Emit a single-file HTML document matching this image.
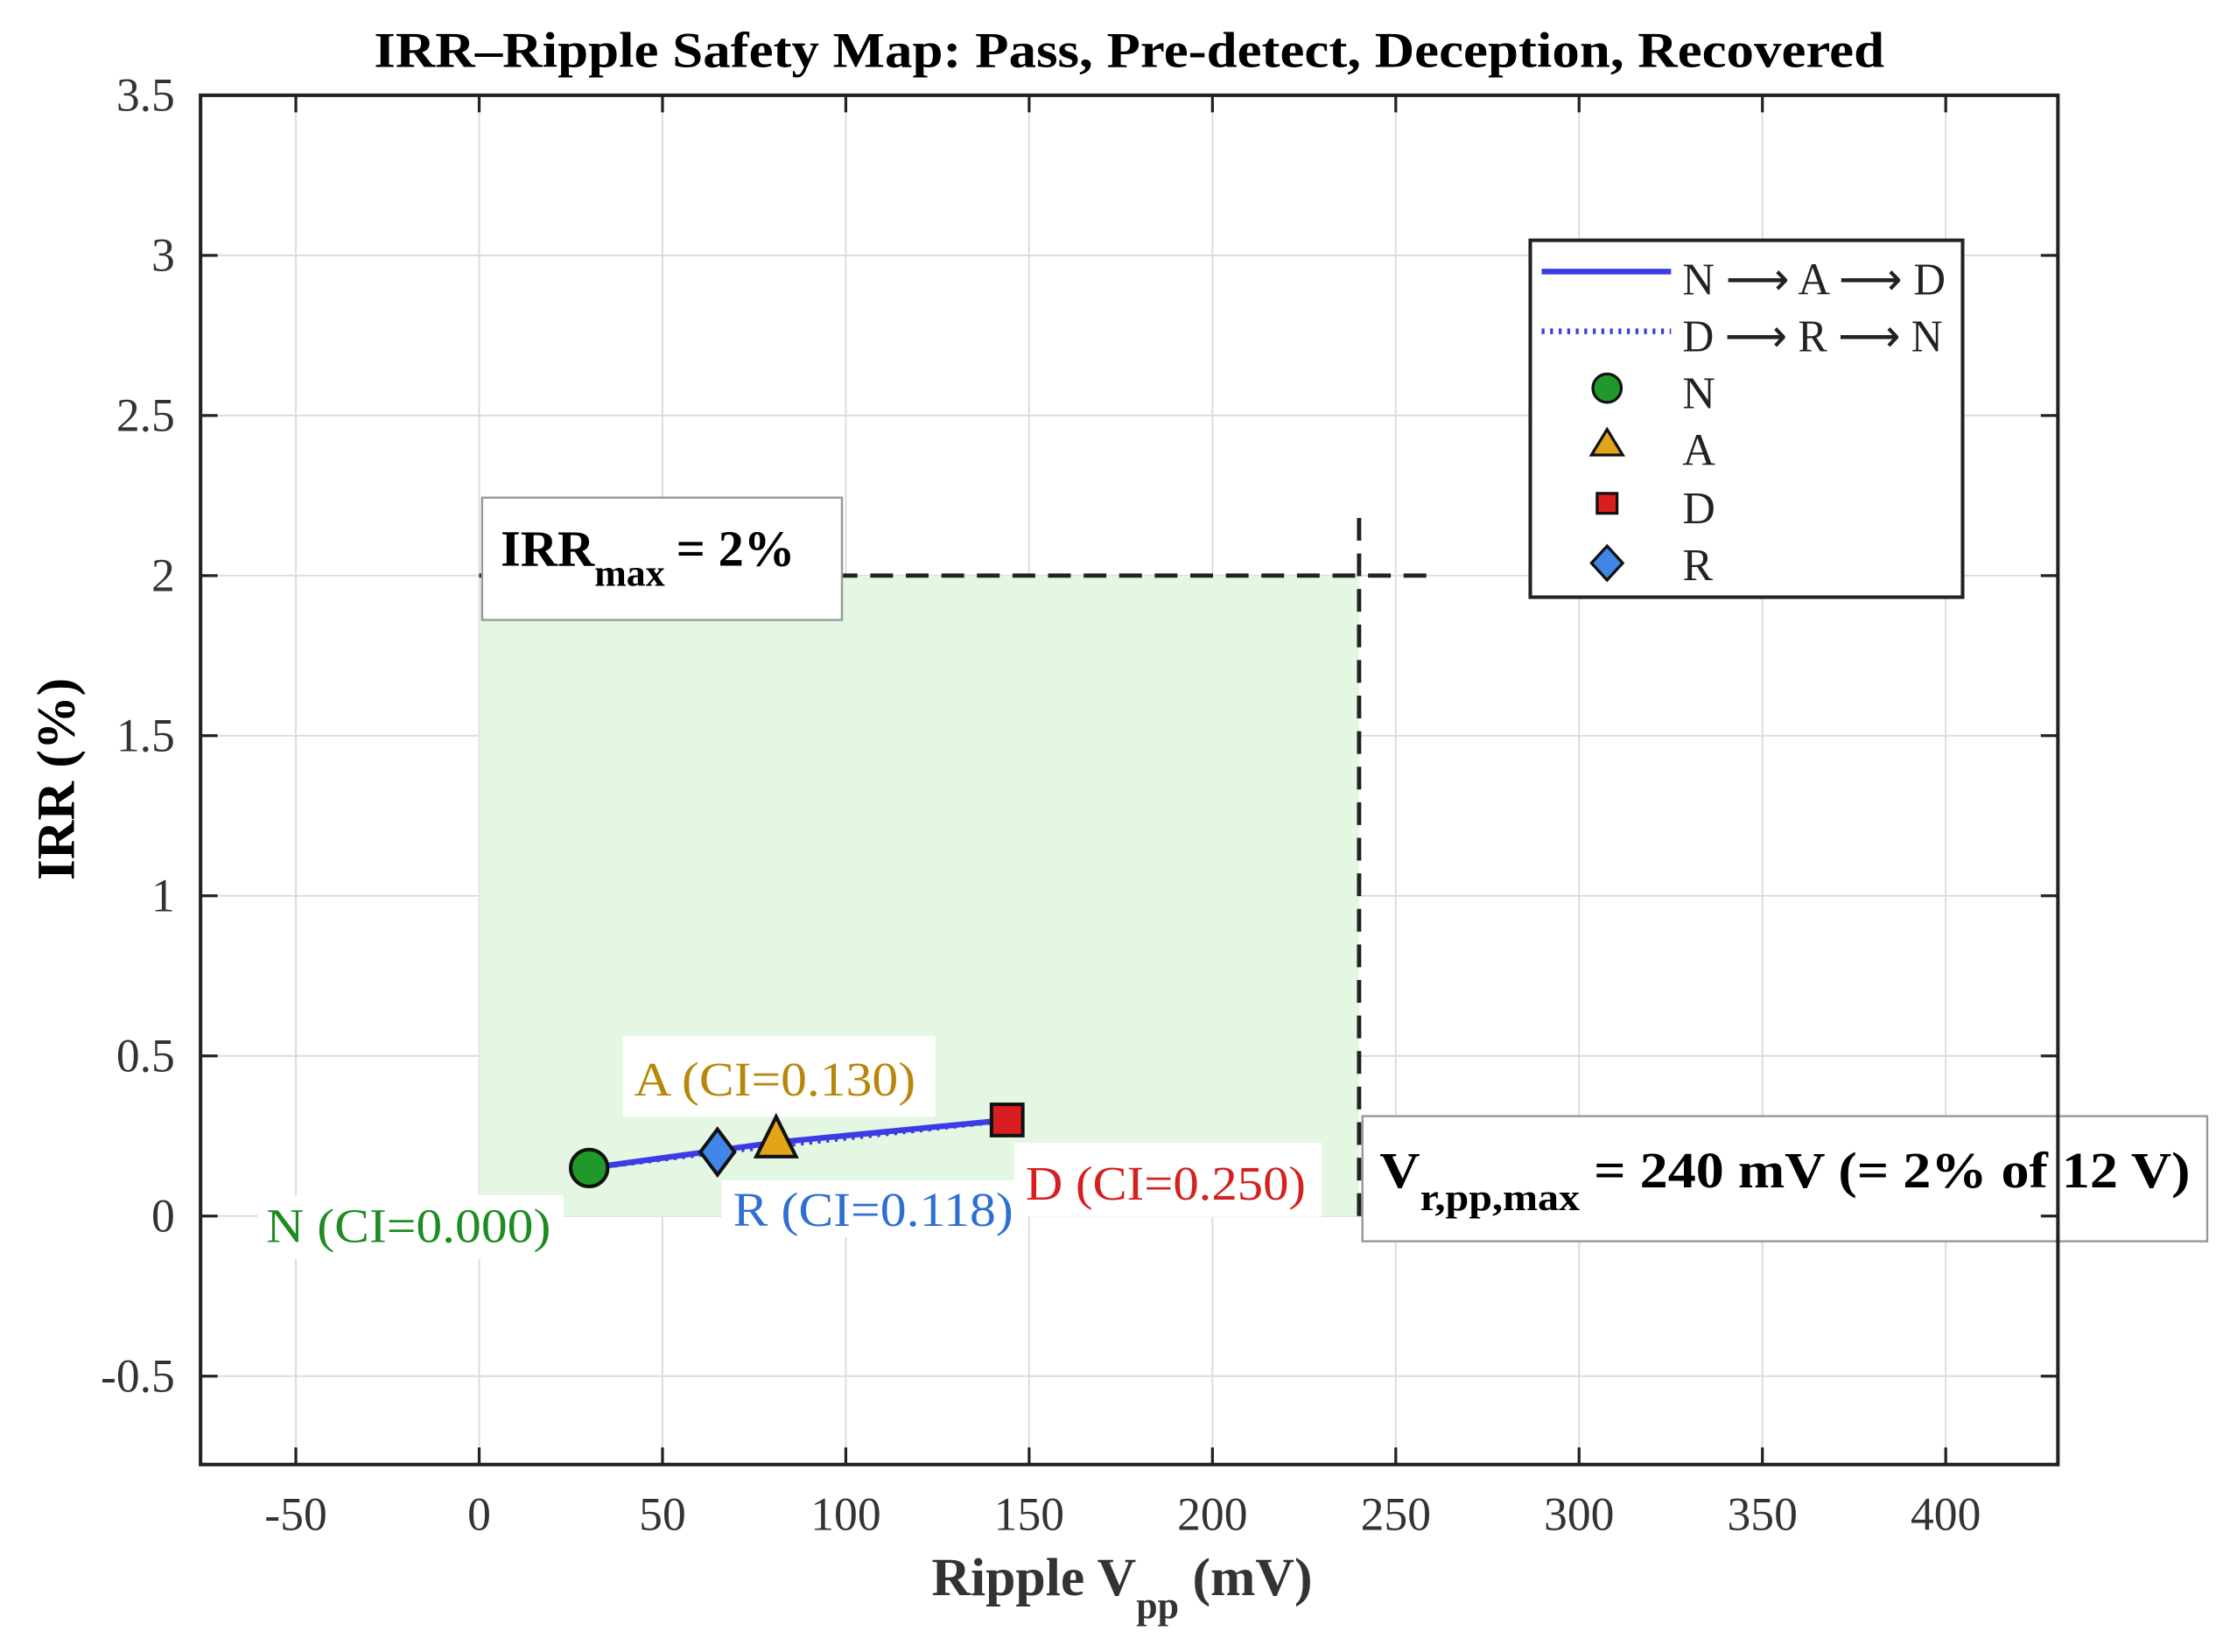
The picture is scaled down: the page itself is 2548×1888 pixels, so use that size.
<!DOCTYPE html>
<html><head><meta charset="utf-8"><style>
html,body{margin:0;padding:0;background:#fff;}
svg{display:block;font-family:"Liberation Serif",serif;}
</style></head><body>
<svg id="chart" width="2548" height="1888" viewBox="0 0 1568 1161.85" xmlns="http://www.w3.org/2000/svg">
<rect width="1568" height="1162" fill="#fff"/>
<g id="grid"></g>
<g id="region"></g>
<g id="marks"></g>
<g id="axes"></g>
<text x="263" y="47" font-size="35" font-weight="bold" textLength="1062" lengthAdjust="spacingAndGlyphs">IRR–Ripple Safety Map: Pass, Pre-detect, Deception, Recovered</text>
<text x="655" y="1122" font-size="38" font-weight="bold" fill="#333">Ripple V<tspan font-size="27" dy="16">pp</tspan><tspan dy="-16"> (mV)</tspan></text>
<text transform="translate(52,548) rotate(-90)" text-anchor="middle" font-size="38" font-weight="bold">IRR (%)</text>
<g>
<rect x="1076" y="169" width="304" height="251" fill="#fff" stroke="#222" stroke-width="2.5"/>
<line x1="1084" y1="191" x2="1175" y2="191" stroke="#3c3ce6" stroke-width="4"/>
<line x1="1084" y1="233" x2="1175" y2="233" stroke="#3c3ce6" stroke-width="4" stroke-dasharray="2,4"/>
<circle cx="1130" cy="273" r="10" fill="#1f9a2a" stroke="#111" stroke-width="2"/>
<polygon points="1130,302 1141,320 1119,320" fill="#e2a418" stroke="#111" stroke-width="2"/>
<rect x="1123" y="347" width="14" height="14" fill="#d81e1e" stroke="#111" stroke-width="2"/>
<polygon points="1130,384 1141,396 1130,408 1119,396" fill="#3f86e6" stroke="#111" stroke-width="2"/>
<g font-size="32" fill="#222">
<text x="1183" y="207" textLength="185" lengthAdjust="spacingAndGlyphs">N ⟶ A ⟶ D</text>
<text x="1183" y="247" textLength="183" lengthAdjust="spacingAndGlyphs">D ⟶ R ⟶ N</text>
<text x="1183" y="287">N</text>
<text x="1183" y="327">A</text>
<text x="1183" y="368">D</text>
<text x="1183" y="408">R</text>
</g></g>
</svg>
<script>
const xTicks=[-50,0,50,100,150,200,250,300,350,400];
const yTicks=[-0.5,0,0.5,1,1.5,2,2.5,3,3.5];
const yTickLabels=["-0.5","0","0.5","1","1.5","2","2.5","3","3.5"];
const pointNames=["N","R","A","D"];
const rippleVals=[30,65,81,144];
const irrVals=[0.15,0.2,0.23,0.3];
const ciVals=["0.000","0.118","0.130","0.250"];
const pathForward=["N","A","D"];
const pathBack=["D","R","N"];
const vLimit=240, irrLimit=2;
const L=141,R=1447,T=67,B=1030,XMIN=-76,XMAX=430.6,YMIN=-0.776,YMAX=3.5;
const sx=v=>L+(v-XMIN)/(XMAX-XMIN)*(R-L);
const sy=v=>B-(v-YMIN)/(YMAX-YMIN)*(B-T);
const NS="http://www.w3.org/2000/svg";
function mk(tag,attrs,parent,txt){const e=document.createElementNS(NS,tag);for(const k in attrs)e.setAttribute(k,attrs[k]);if(txt!==undefined)e.textContent=txt;parent.appendChild(e);return e;}
const grid=document.getElementById('grid'),axes=document.getElementById('axes'),region=document.getElementById('region'),marks=document.getElementById('marks');
xTicks.forEach(t=>{const l=mk('line',{x1:sx(t),x2:sx(t),y1:T,y2:B,stroke:'#dcdcdc','stroke-width':1.2},grid);

mk('line',{x1:sx(t),x2:sx(t),y1:B,y2:B-12,stroke:'#222','stroke-width':2},axes);
mk('line',{x1:sx(t),x2:sx(t),y1:T,y2:T+12,stroke:'#222','stroke-width':2},axes);
const tx=mk('text',{x:sx(t),y:B+46,'text-anchor':'middle','font-size':33,fill:'#333'},axes,String(t));
});
yTicks.forEach((t,i)=>{const l=mk('line',{x1:L,x2:R,y1:sy(t),y2:sy(t),stroke:'#dcdcdc','stroke-width':1.2},grid);

mk('line',{x1:L,x2:L+12,y1:sy(t),y2:sy(t),stroke:'#222','stroke-width':2},axes);
mk('line',{x1:R,x2:R-12,y1:sy(t),y2:sy(t),stroke:'#222','stroke-width':2},axes);
const tx=mk('text',{x:L-18,y:sy(t)+11,'text-anchor':'end','font-size':33,fill:'#333'},axes,yTickLabels[i]);
});
mk('rect',{x:L,y:T,width:R-L,height:B-T,fill:'none',stroke:'#222','stroke-width':2.5},axes);
const rg=mk('rect',{x:sx(0),y:sy(irrLimit),width:sx(vLimit)-sx(0),height:sy(0)-sy(irrLimit),fill:'#e3f7e3'},region);

const hl=mk('line',{x1:sx(0),x2:sx(260),y1:sy(irrLimit),y2:sy(irrLimit),stroke:'#222','stroke-width':3,'stroke-dasharray':'16,9'},region);

const vl=mk('line',{x1:sx(vLimit),x2:sx(vLimit),y1:sy(0),y2:sy(2.2),stroke:'#222','stroke-width':3,'stroke-dasharray':'16,9'},region);

const b1=mk('g',{},region);

mk('rect',{x:339,y:350,width:253,height:86,fill:'#fff',stroke:'#999','stroke-width':1.5},b1);
const t1=mk('text',{x:352,y:398,'font-size':36,'font-weight':'bold'},b1);
t1.innerHTML='IRR<tspan font-size="27" dy="14">max</tspan><tspan dy="-14" dx="8">= 2%</tspan>';
const b2=mk('g',{},region);

mk('rect',{x:958,y:785,width:594,height:88,fill:'#fff',stroke:'#999','stroke-width':1.5},b2);
const t2=mk('text',{x:970,y:835,'font-size':36,'font-weight':'bold',textLength:570,lengthAdjust:'spacingAndGlyphs'},b2);
t2.innerHTML='V<tspan font-size="27" dy="16">r,pp,max</tspan><tspan dy="-16"> = 240 mV (= 2% of 12 V)</tspan>';
const idx=n=>pointNames.indexOf(n);
const fwd=pathForward.map(n=>sx(rippleVals[idx(n)])+','+sy(irrVals[idx(n)])).join(' ');
const bk=pathBack.map(n=>sx(rippleVals[idx(n)])+','+sy(irrVals[idx(n)])).join(' ');
const pf=mk('polyline',{points:fwd,fill:'none',stroke:'#3c3ce6','stroke-width':4},marks);

const pb=mk('polyline',{points:bk,fill:'none',stroke:'#3c3ce6','stroke-width':4,'stroke-dasharray':'2,4'},marks);

const annCol={N:'#1e8c23',R:'#2f6fd0',A:'#b8860b',D:'#d42020'};
// [boxdx, boxdy, w, h, textdx, textdy, textLength]
const annBox={N:[-233,19,215,45,-227,52,200],R:[3,20,210,40,11,52,197],A:[-108,-75,220,57,-100,-33,198],D:[5,16,216,52,13,56,197]};
["N","R","A","D"].forEach(n=>{const i=idx(n);const px=sx(rippleVals[i]),py=sy(irrVals[i]);const b=annBox[n];
const g=mk('g',{},marks);
mk('rect',{x:px+b[0],y:py+b[1],width:b[2],height:b[3],fill:'#fff'},g);
mk('text',{x:px+b[4],y:py+b[5],'font-size':34,fill:annCol[n],textLength:b[6],lengthAdjust:'spacingAndGlyphs'},g,n+'  (CI='+ciVals[i]+')');});
pointNames.forEach((n,i)=>{const px=sx(rippleVals[i]),py=sy(irrVals[i]);let m;
if(n==='N')m=mk('circle',{cx:px,cy:py,r:13,fill:'#1f9a2a',stroke:'#111','stroke-width':2.5},marks);
if(n==='R')m=mk('polygon',{points:`${px},${py-16} ${px+12},${py} ${px},${py+16} ${px-12},${py}`,fill:'#3f86e6',stroke:'#111','stroke-width':2.5},marks);
if(n==='A')m=mk('polygon',{points:`${px},${py-18} ${px+14},${py+10} ${px-14},${py+10}`,fill:'#e2a418',stroke:'#111','stroke-width':2.5},marks);
if(n==='D')m=mk('rect',{x:px-11,y:py-11,width:22,height:22,fill:'#d81e1e',stroke:'#111','stroke-width':2.5},marks);

});
</script>
</body></html>
